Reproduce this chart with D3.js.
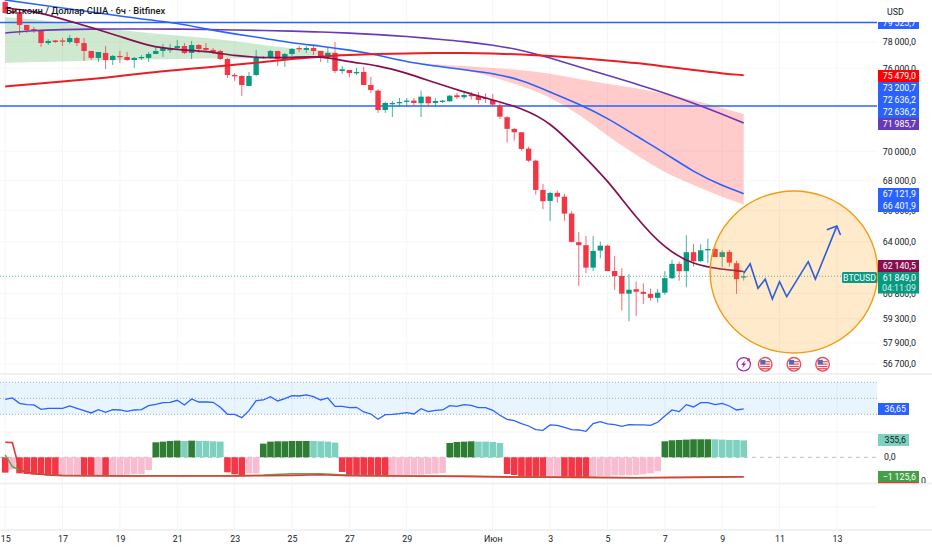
<!DOCTYPE html>
<html>
<head>
<meta charset="utf-8">
<script src="https://cdn.jsdelivr.net/npm/d3@7"></script>
<style>
  html, body { margin: 0; padding: 0; background: #fff; }
  svg { display: block; }
  text { font-family: Roboto, "Noto Sans", sans-serif; }
</style>
</head>
<body>
<svg id="chart" width="932" height="550"></svg>
<script>
// 6h candles, open / high / low / close, bar 0 is 15 May 00:00
const opens = [81150,80430,80350,79330,79010,78930,77920,78120,78120,78000,78310,77920,77310,76780,77160,76620,76930,76850,76620,76780,76780,77080,77310,77390,77540,77690,77160,77770,77540,77390,77310,76700,75490,75420,74680,75490,76780,76780,77310,76620,77080,77540,77390,77540,77310,76850,77160,75790,75870,75640,75720,74750,74330,72920,73390,73460,73540,73600,73410,73890,73430,73540,73550,73990,73850,74030,73920,73810,73650,73260,72400,71560,71330,70180,69350,67370,66640,67170,66920,65810,63970,63780,62380,63440,63750,62170,61870,60790,61060,60900,60780,60540,60850,61730,62610,62160,63340,62780,63480,63540,63040,63360,62650,61800];
const highs = [81470,80590,80510,79330,79170,78930,78230,78150,78310,78540,78390,78310,77310,77230,77690,77000,77310,77230,76850,77000,77230,77620,77850,77850,78150,77920,78080,77850,77920,77540,77390,76780,75640,75490,75720,77390,76930,77390,77310,77160,77540,77690,77690,77770,77310,77540,78000,76170,75870,76020,76100,75340,74450,73500,73570,73790,73790,73790,74330,73940,73790,73650,74010,74160,74210,74230,74230,74140,74090,73410,72490,71630,71350,70320,69420,67770,67240,67320,67100,65960,64620,64370,64370,64000,63810,63110,62340,61990,61520,61420,61090,61080,62160,62860,62750,64410,63840,63840,64200,63630,63480,63480,62810,62030];
const lows = [80200,80200,78540,78700,78700,77620,77770,77920,77690,77850,77690,76550,76620,76470,75940,76250,76400,76550,76020,76620,76470,77080,76850,77160,77390,77080,76700,77160,77230,77080,76620,75270,75050,73940,74680,75420,76700,76700,76170,76100,76930,77230,77160,77000,76470,76400,75640,75570,75340,75490,74750,74160,72710,72710,72420,73140,73140,73210,72420,73140,73140,73430,73500,73720,73720,73670,73360,73430,73160,72280,70600,70740,70040,69260,67050,66090,65330,66530,65350,63940,61260,62030,62160,62960,62160,61020,59780,59150,59470,60180,60370,60250,60730,61670,61580,61180,62440,62730,62650,63020,62400,62440,60780,61580];
const closes = [80270,80270,79330,78930,78890,77920,78080,78000,78040,78310,77920,77310,76780,77230,76620,76930,76850,76620,76780,76850,77080,77310,77540,77460,77690,77160,77770,77460,77390,77230,76700,75490,75420,74750,75420,76780,76850,77310,76700,77080,77460,77460,77540,77310,76850,77160,75790,75920,75640,75720,74750,74380,72920,73430,73430,73500,73600,73430,73890,73410,73570,73600,73960,73850,74010,73920,73650,73740,73310,72440,71570,71330,70160,69350,67370,66620,67170,66920,65810,63990,63780,62380,63420,63750,62170,61860,60790,61030,60910,60780,60540,60850,61730,62610,62160,63340,62780,63460,63540,63040,63340,62690,61670,61849];

// moving averages, read once a day, last one on the last bar
const maBars = [0,4,8,12,16,20,24,28,32,36,40,44,48,52,56,60,64,68,72,76,80,84,88,92,96,100,103];
const maMaroon = [80670,80430,79800,79130,78430,77690,77390,77310,76930,76780,76810,76930,76470,76210,75640,74900,74230,73650,73060,72060,70020,68040,65530,63540,62550,62270,62140.5];
const maBlue = [81310,80990,80670,80350,80040,79720,79480,79010,78620,78310,77920,77690,77390,77000,76470,76170,75870,75640,75120,74230,73360,72350,71070,69880,68580,67640,67121.9];
const maPurple = [78700,78890,78970,79010,79010,79010,79010,78970,78930,78890,78850,78770,78700,78580,78430,78230,78040,77770,77390,76780,76100,75490,74820,74160,73430,72630,71985.7];
const maRed = [74640,74820,75010,75190,75420,75680,75870,76060,76250,76470,76700,76890,77000,77080,77120,77160,77160,77120,77040,76930,76780,76590,76400,76130,75870,75610,75479];

const greenBars = [0,4,8,12,16,20,24,28,32,36,40,44,48];
const greenTop = [79950,79800,79480,79170,78930,78700,78510,78310,78080,77770,77500,77390,77000];
const greenBottom = [76400,76470,76510,76590,76620,76660,76700,76740,76740,76740,76740,76780,77000];
const pinkBars = [56,60,64,68,72,76,80,84,88,92,96,100,103];
const pinkTop = [76510,76280,76170,76020,75870,75610,75190,74820,74530,74090,73650,73060,72630];
const pinkBottom = [76470,76100,75940,75340,74680,73870,72630,71070,69740,68510,67700,66900,66401.9];

const levels = [79525.7, 73200.7];
const lastPrice = 61849;

// forecast drawn on the chart
const arrowBars = [103,103.9,105,106,107,108,109,112,113,116];
const arrowPrices = [62030,62610,61120,61670,60470,61520,60610,62750,61670,65010];
const arrowHeadBars = [114.6,116,116.5];
const arrowHeadPrices = [64770,65010,64430];

// lower panes
const rsi = [48.75,50.4,43.75,42.1,41.7,36.25,37.5,37.5,37.5,40.4,37.5,34.6,31.7,35.8,32.5,35.8,35.4,33.75,35.4,35.8,40.8,42.5,44.6,45,47.5,41.7,49.2,45.4,45.4,45,38.75,30,30,25.8,34.6,47.1,47.9,52.1,46.7,49.6,53.3,52.9,54.2,52.1,47.9,50.4,40,40,38.3,38.75,32.9,30.4,23.75,29.6,30,30.8,32.1,30.4,37.1,33.3,35,35.4,40.8,40,42.1,41.25,38.3,38.3,35,28.75,23.75,22.1,18.3,15.4,10.8,10,16.7,16.25,13.75,10.8,10.4,8.75,18.3,20.8,17.9,17.1,15,17.1,16.7,16.7,16.25,20,27.9,35.4,33.3,42.1,39.2,44.6,44.6,42.1,43.75,40.4,35.4,36.65];
const hist = [-322,-252,-336,-350,-364,-371,-378,-385,-392,-392,-385,-392,-392,-378,-392,-378,-371,-364,-350,-350,-266,315,329,343,350,343,350,343,343,336,329,-315,-357,-378,-336,-336,287,329,336,336,343,343,343,343,336,329,308,-308,-378,-378,-378,-378,-392,-392,-378,-371,-371,-364,-364,-350,-343,-329,301,322,329,336,329,329,322,301,-350,-371,-392,-399,-406,-406,-392,-392,-406,-413,-413,-413,-406,-392,-392,-378,-378,-378,-371,-357,-336,-294,336,357,364,371,378,378,378,378,371,364,364,355.6];
const histStates = "rprrrrrrppprrprppppppggggtgttttrrrppgggggggttttrrrrrrrppppppppggggttttrrrrrrpprrrrppppppppppgggggggttttt";
const oscBars = [0,1,2,3,4,6,8,16,24,32,36,40,44,48,56,64,72,80,88,96,103];
const oscRed = [873,854,-737,-854,-931,-1028,-1067,-1086,-1086,-1086,-1067,-1048,-1009,-1067,-1086,-1106,-1145,-1164,-1183,-1164,-1125.6];
const oscGreen = [136,-543,-737,-834,-931,-1009,-1048,-1067,-1067,-1067,-1028,-951,-951,-1048,-1086,-1106,-1145,-1164,-1183,-1164,-1125.6];

const priceTicks = [78000,76000,70000,68000,66000,64000,60800,59300,57900,56700];
const dayTicks = [0,8,16,24,32,40,48,56,68,76,84,92,100,108,116];
const dayLabels = ["15","17","19","21","23","25","27","29","Июн","3","5","7","9","11","13"];

const histColors = { r: "#f23645", p: "#f8bbd0", g: "#2e7d32", t: "#7fd1bf" };
const blue = "#2962ff", maroon = "#880e4f", purple = "#673ab7", teal = "#089981", textCol = "#131722";
const axisFont = 8.8;

const svg = d3.select("#chart");
const plotRight = 877;

const x = d3.scaleLinear().domain([0, 103]).range([5.2, 743.7]);
const y = d3.scaleLog().domain([78000, 56700]).range([42, 364]);
const yRsi = d3.scaleLinear().domain([70, 30]).range([382.3, 414.3]);
const yHist = d3.scaleLinear().domain([0, 378]).range([457.3, 439.3]);
const yOsc = d3.scaleLinear().domain([0, -1125.6]).range([457.3, 476.7]);

const locale = d3.formatLocale({ decimal: ",", thousands: "\u2009", grouping: [3], currency: ["", ""], minus: "\u2212" });
const fmt = locale.format(",.1f");

// clip for everything that belongs to the price pane
svg.append("clipPath").attr("id", "pricePane").append("rect")
  .attr("x", 0).attr("y", 0).attr("width", plotRight).attr("height", 372);

// grid
const grid = svg.append("g");
grid.selectAll("line.v").data(dayTicks).enter().append("line")
  .attr("x1", d => x(d)).attr("x2", d => x(d))
  .attr("y1", 0).attr("y2", 530)
  .attr("stroke", "#f4f5f7");
grid.selectAll("line.h").data(priceTicks).enter().append("line")
  .attr("x1", 0).attr("x2", plotRight)
  .attr("y1", d => y(d)).attr("y2", d => y(d))
  .attr("stroke", "#f6f7f8");
[432, 507].forEach(py => {
  grid.append("line").attr("x1", 0).attr("x2", plotRight).attr("y1", py).attr("y2", py).attr("stroke", "#f4f5f7");
});
[374, 483.5, 530].forEach(py => {
  grid.append("line").attr("x1", 0).attr("x2", 932).attr("y1", py).attr("y2", py)
    .attr("stroke", "#f0f1f3").attr("stroke-width", 2);
});

const pane = svg.append("g").attr("clip-path", "url(#pricePane)");

// clouds
const greenArea = d3.area().curve(d3.curveBasis)
  .x((d, i) => x(greenBars[i])).y0((d, i) => y(greenBottom[i])).y1(d => y(d));
pane.append("path").attr("d", greenArea(greenTop)).attr("fill", "#4caf50").attr("fill-opacity", 0.27);
const pinkArea = d3.area().curve(d3.curveBasis)
  .x((d, i) => x(pinkBars[i])).y0((d, i) => y(pinkBottom[i])).y1(d => y(d));
pane.append("path").attr("d", pinkArea(pinkTop)).attr("fill", "#ff5252").attr("fill-opacity", 0.3);

// horizontal levels and last price
pane.selectAll("line.level").data(levels).enter().append("line")
  .attr("x1", 0).attr("x2", plotRight)
  .attr("y1", d => y(d)).attr("y2", d => y(d))
  .attr("stroke", blue).attr("stroke-width", 1.5);
svg.append("line")
  .attr("x1", 0).attr("x2", 842)
  .attr("y1", y(lastPrice)).attr("y2", y(lastPrice))
  .attr("stroke", teal).attr("stroke-opacity", 0.75).attr("stroke-dasharray", "1 2");

// candles
const candles = pane.selectAll("g.candle").data(opens).enter().append("g");
const candleColor = (o, i) => closes[i] >= o ? teal : "#f23645";
candles.append("line")
  .attr("x1", (d, i) => x(i)).attr("x2", (d, i) => x(i))
  .attr("y1", (d, i) => y(highs[i])).attr("y2", (d, i) => y(lows[i]))
  .attr("stroke", candleColor).attr("stroke-opacity", 0.75);
candles.append("rect")
  .attr("x", (d, i) => x(i) - 2.7).attr("width", 5.4)
  .attr("y", (o, i) => Math.min(y(o), y(closes[i])))
  .attr("height", (o, i) => Math.max(1.3, Math.abs(y(o) - y(closes[i]))))
  .attr("fill", candleColor);

// moving averages
const maLine = d3.line().curve(d3.curveBasis).x((d, i) => x(maBars[i])).y(d => y(d));
[[maPurple, purple, 1.6], [maBlue, blue, 1.6], [maRed, "#ec1c24", 2], [maMaroon, maroon, 1.7]].forEach(m => {
  pane.append("path").attr("d", maLine(m[0]))
    .attr("fill", "none").attr("stroke", m[1]).attr("stroke-width", m[2]);
});

// forecast circle and arrow
svg.append("ellipse")
  .attr("cx", x(110)).attr("cy", y(62110))
  .attr("rx", 83.8).attr("ry", 81)
  .attr("fill", "#ff9800").attr("fill-opacity", 0.2)
  .attr("stroke", "#f39c12").attr("stroke-width", 1.4);
const polyLine = d3.line().x(d => x(d[0])).y(d => y(d[1]));
svg.append("path").attr("d", polyLine(d3.zip(arrowBars, arrowPrices)))
  .attr("fill", "none").attr("stroke", "#2b5fd9").attr("stroke-width", 1.6);
svg.append("path").attr("d", polyLine(d3.zip(arrowHeadBars, arrowHeadPrices)))
  .attr("fill", "none").attr("stroke", "#2b5fd9").attr("stroke-width", 1.6);

// RSI pane
svg.append("rect")
  .attr("x", 0).attr("width", plotRight)
  .attr("y", yRsi(70)).attr("height", yRsi(30) - yRsi(70))
  .attr("fill", "#2196f3").attr("fill-opacity", 0.1);
[70, 50, 30].forEach(v => {
  svg.append("line").attr("x1", 0).attr("x2", plotRight).attr("y1", yRsi(v)).attr("y2", yRsi(v))
    .attr("stroke", "#a5acb8").attr("stroke-dasharray", "1 2");
});
svg.append("path")
  .attr("d", d3.line().x((d, i) => x(i)).y(d => yRsi(d))(rsi))
  .attr("fill", "none").attr("stroke", blue).attr("stroke-width", 1.3);

// histogram pane
svg.append("line").attr("x1", 0).attr("x2", plotRight).attr("y1", yHist(0)).attr("y2", yHist(0))
  .attr("stroke", "#b9bcc4").attr("stroke-dasharray", "4 4");
svg.selectAll("rect.bar").data(hist).enter().append("rect")
  .attr("x", (d, i) => x(i) - 3.3).attr("width", 6.6)
  .attr("y", d => Math.min(yHist(d), yHist(0)))
  .attr("height", d => Math.abs(yHist(d) - yHist(0)))
  .attr("fill", (d, i) => histColors[histStates[i]]);
const oscLine = d3.line().x((d, i) => x(oscBars[i])).y(d => yOsc(d));
svg.append("path").attr("d", oscLine(oscGreen)).attr("fill", "none").attr("stroke", "#4caf50").attr("stroke-width", 1.5);
svg.append("path").attr("d", oscLine(oscRed)).attr("fill", "none").attr("stroke", "#e53935").attr("stroke-width", 1.6);

// event icons under the candles
const iconY = 364.3;
const lightning = svg.append("g").attr("transform", `translate(${x(103)},${iconY})`);
lightning.append("circle").attr("r", 6.7).attr("fill", "#fff").attr("stroke", "#9c27b0").attr("stroke-width", 1.2);
lightning.append("path").attr("d", "M1.5,-4 L-2.5,0.6 L-0.3,0.6 L-1.5,4 L2.5,-0.8 L0.3,-0.8 Z").attr("fill", "#9c27b0");
lightning.append("circle").attr("cx", 4.8).attr("cy", -4.6).attr("r", 1.7).attr("fill", "#f23645");
[106, 110, 114].forEach(b => {
  const f = svg.append("g").attr("transform", `translate(${x(b)},${iconY})`);
  f.append("circle").attr("r", 6.8).attr("fill", "#fff").attr("stroke", "#e8505b").attr("stroke-width", 1.4);
  [-3.2, -0.8, 1.6, 3.8].forEach(dy => {
    f.append("rect").attr("x", -5).attr("y", dy).attr("width", 10).attr("height", 1.2).attr("fill", "#e8505b");
  });
  f.append("rect").attr("x", -4.8).attr("y", -4.5).attr("width", 5).attr("height", 4.5).attr("fill", "#4a6fb5");
});

// bottom time axis
const timeAxis = d3.axisBottom(x).tickValues(dayTicks).tickSize(0)
  .tickFormat((d, i) => dayLabels[i]);
const timeG = svg.append("g").attr("transform", "translate(0,533)").call(timeAxis);
timeG.select(".domain").remove();
timeG.selectAll("text").attr("fill", textCol).attr("font-size", axisFont)
  .attr("font-family", "Roboto, sans-serif");

// right price axis
const priceAxis = d3.axisRight(y).tickValues(priceTicks).tickSize(0).tickFormat(fmt);
const priceG = svg.append("g").attr("transform", "translate(916,0)").call(priceAxis);
priceG.select(".domain").remove();
priceG.selectAll("text").attr("x", 0).attr("text-anchor", "end").attr("fill", textCol)
  .attr("font-size", axisFont).attr("font-family", "Roboto, sans-serif");

function label(left, top, w, h, fill, txt, col, right) {
  svg.append("rect").attr("x", left).attr("y", top).attr("width", w).attr("height", h).attr("fill", fill);
  svg.append("text").attr("x", right).attr("y", top + h / 2).attr("dy", "0.35em")
    .attr("text-anchor", "end").attr("fill", col).attr("font-size", axisFont).text(txt);
}
const plain = (px, py, txt) => svg.append("text").attr("x", px).attr("y", py).attr("dy", "0.35em")
  .attr("fill", textCol).attr("font-size", axisFont).text(txt);

// stacked value tags, top to bottom
plain(887, 11.5, "USD");
svg.append("clipPath").attr("id", "topTag").append("rect").attr("x", 878).attr("y", 22).attr("width", 42).attr("height", 7);
const topTag = svg.append("g").attr("clip-path", "url(#topTag)");
topTag.append("rect").attr("x", 878).attr("y", 22).attr("width", 41).attr("height", 7).attr("fill", blue);
topTag.append("text").attr("x", 916).attr("y", 23).attr("dy", "0.35em").attr("text-anchor", "end")
  .attr("fill", "#fff").attr("font-size", axisFont).text(fmt(levels[0]));

label(878, 70, 41, 12, "#ff0000", fmt(maRed[maRed.length - 1]), "#fff", 916);
label(878, 82, 41, 12, blue, fmt(levels[1]), "#fff", 916);
label(878, 94, 41, 12, blue, fmt(72636.2), "#fff", 916);
label(878, 106, 41, 12, blue, fmt(72636.2), "#fff", 916);
label(878, 118, 41, 12, purple, fmt(maPurple[maPurple.length - 1]), "#fff", 916);
label(878, 188, 41, 12, blue, fmt(maBlue[maBlue.length - 1]), "#fff", 916);
label(878, 200, 41, 12, blue, fmt(pinkBottom[pinkBottom.length - 1]), "#fff", 916);
label(878, 260, 41, 12, maroon, fmt(maMaroon[maMaroon.length - 1]), "#fff", 916);

// last price tag with countdown
svg.append("rect").attr("x", 842).attr("y", 272).attr("width", 35).attr("height", 11).attr("rx", 1.5).attr("fill", teal);
svg.append("text").attr("x", 859.5).attr("y", 277.5).attr("dy", "0.35em").attr("text-anchor", "middle")
  .attr("fill", "#fff").attr("font-size", axisFont).text("BTCUSD");
svg.append("rect").attr("x", 878).attr("y", 272).attr("width", 41).attr("height", 21.5).attr("fill", teal);
svg.append("text").attr("x", 916).attr("y", 277.5).attr("dy", "0.35em").attr("text-anchor", "end")
  .attr("fill", "#fff").attr("font-size", axisFont).text(fmt(lastPrice));
svg.append("text").attr("x", 916).attr("y", 287.5).attr("dy", "0.35em").attr("text-anchor", "end")
  .attr("fill", "#d7f2ec").attr("font-size", axisFont).text("04:11:09");

// lower pane tags
label(878, 403, 31, 12, blue, "36,65", "#fff", 906);
label(878, 434, 31, 12, "#7fd1bf", fmt(hist[hist.length - 1]), textCol, 906);
plain(884, 457.3, "0,0");
svg.append("rect").attr("x", 878).attr("y", 471).attr("width", 41).attr("height", 12).attr("fill", "#43a047");
svg.append("rect").attr("x", 878).attr("y", 482).attr("width", 41).attr("height", 1.2).attr("fill", "#e53935");
svg.append("text").attr("x", 916).attr("y", 476.8).attr("dy", "0.35em").attr("text-anchor", "end")
  .attr("fill", "#fff").attr("font-size", axisFont).text(fmt(oscRed[oscRed.length - 1]));
svg.append("clipPath").attr("id", "zeroTag").append("rect").attr("x", 920).attr("y", 474).attr("width", 12).attr("height", 9);
svg.append("text").attr("x", 921).attr("y", 481).attr("dy", "0.35em").attr("clip-path", "url(#zeroTag)")
  .attr("fill", textCol).attr("font-size", axisFont).text("0");

// title on top of everything
svg.append("text").attr("x", 6).attr("y", 11).attr("dy", "0.35em")
  .attr("fill", "#131722").attr("font-size", 9.4).attr("font-weight", 500)
  .text("Биткоин / Доллар США · 6ч · Bitfinex");
</script>
</body>
</html>
